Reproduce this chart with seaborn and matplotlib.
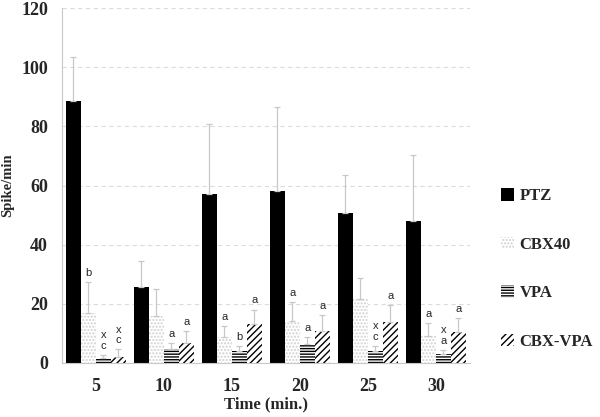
import numpy as np
import pandas as pd
import seaborn as sns
import matplotlib.pyplot as plt

times = ['5', '10', '15', '20', '25', '30']
groups = ['PTZ', 'CBX40', 'VPA', 'CBX-VPA']

ptz = [88.5, 25.5, 57.0, 58.0, 50.8, 48.0]
cbx40 = [17.0, 16.0, 8.8, 14.0, 21.6, 9.0]
vpa = [1.5, 4.8, 4.0, 6.5, 4.0, 3.0]
cbx_vpa = [2.0, 6.8, 13.2, 10.8, 13.9, 10.3]

ptz_err = [15.0, 9.0, 24.0, 28.5, 12.7, 22.3]
cbx40_err = [10.4, 9.0, 3.7, 6.6, 7.1, 4.5]
vpa_err = [1.2, 1.9, 1.7, 2.3, 1.7, 1.4]
cbx_vpa_err = [2.5, 4.0, 4.8, 5.4, 5.7, 4.7]

cbx40_lbl = ['b', '', 'a', 'a', '', 'a']
vpa_lbl = ['x\nc', 'a', 'b', 'a', 'x\nc', 'x\na']
cbx_vpa_lbl = ['x\nc', 'a', 'a', 'a', 'a', 'a']

values = [ptz, cbx40, vpa, cbx_vpa]
errors = [ptz_err, cbx40_err, vpa_err, cbx_vpa_err]
labels = [None, cbx40_lbl, vpa_lbl, cbx_vpa_lbl]

df = pd.DataFrame({
    'time': np.repeat(times, len(groups)).tolist(),
    'group': groups * len(times),
    'value': [values[g][t] for t in range(len(times)) for g in range(len(groups))],
})

sns.set_style('white')
plt.rcParams['hatch.linewidth'] = 1.0

fig = plt.figure(figsize=(6, 4.17), dpi=100)
ax = fig.add_axes([0.103, 0.13, 0.68, 0.85])

sns.barplot(data=df, x='time', y='value', hue='group', order=times,
            hue_order=groups, errorbar=None, width=0.88, ax=ax,
            palette=['black', 'white', 'white', 'white'])

styles = [
    dict(facecolor='black', edgecolor='black', hatch=None),
    dict(facecolor='white', edgecolor='#d0d0d0', hatch='.....'),
    dict(facecolor='white', edgecolor='black', hatch='------'),
    dict(facecolor='white', edgecolor='black', hatch='/////'),
]

bar_containers = list(ax.containers)
for gi, cont in enumerate(bar_containers):
    st = styles[gi]
    for ti, p in enumerate(cont.patches):
        p.set_facecolor(st['facecolor'])
        p.set_edgecolor(st['edgecolor'])
        p.set_linewidth(0)
        if st['hatch']:
            p.set_hatch(st['hatch'])
        cx = p.get_x() + p.get_width() / 2
        top = p.get_height()
        err = errors[gi][ti]
        ax.errorbar(cx, top, yerr=[[0], [err]], fmt='none', ecolor='#c8c8c8',
                    elinewidth=0.9, capsize=2, capthick=0.9, zorder=1)
        if labels[gi] is not None and labels[gi][ti]:
            ax.annotate(labels[gi][ti], (cx, top + err), xytext=(0, 3),
                        textcoords='offset points', ha='center', va='bottom',
                        fontsize=8, family='Liberation Sans',
                        linespacing=1.05)

ax.set_ylim(0, 120)
ax.set_xlim(-0.5, 5.5)
ax.set_yticks(range(0, 121, 20))
ax.yaxis.grid(True, linestyle=(0, (4, 3)), color='#dcdcdc', linewidth=0.8)
ax.set_axisbelow(True)

for s in ['top', 'right']:
    ax.spines[s].set_visible(False)
ax.spines['left'].set_color('#c8c8c8')
ax.spines['bottom'].set_color('#c8c8c8')

ax.set_xticks(np.arange(-0.5, 6, 1), minor=True)
ax.tick_params(axis='x', which='major', length=0, pad=11)
ax.tick_params(axis='x', which='minor', length=5, color='#c8c8c8')
ax.tick_params(axis='y', length=4, color='#c8c8c8', pad=6)

for t in ax.get_xticklabels() + ax.get_yticklabels():
    t.set_family('Liberation Serif')
    t.set_fontweight('bold')
    t.set_fontsize(13)

ax.set_xlabel('Time (min.)', family='Liberation Serif', fontweight='bold',
              fontsize=12, labelpad=1)
ax.set_ylabel('Spike/min', family='Liberation Serif', fontweight='bold',
              fontsize=10.5, labelpad=5)

handles = [c.patches[0] for c in bar_containers]
ax.legend(handles, groups, loc='center left', bbox_to_anchor=(0.81, 0.355),
          bbox_transform=fig.transFigure, frameon=False, labelspacing=1.95,
          handlelength=0.75, handleheight=0.75, handletextpad=0.35,
          prop={'family': 'Liberation Serif', 'weight': 'bold', 'size': 12})

fig.savefig('out.png', dpi=100)
